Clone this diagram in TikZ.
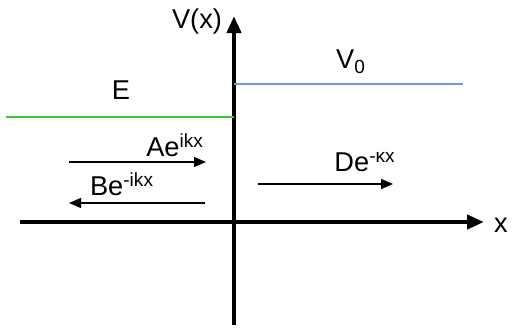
\documentclass[tikz,border=0pt]{standalone}
\usepackage{fontspec}
\setmainfont{Liberation Sans}
\usepackage{tikz}
\usetikzlibrary{arrows.meta}
\definecolor{levelGreen}{HTML}{3CC83C}
\definecolor{levelBlue}{HTML}{6E96EB}

\begin{document}
\begin{tikzpicture}[
  font=\fontsize{15.5}{18}\selectfont,
  axis/.style={-{Triangle[length=3.4mm, width=2.8mm]}, line width=2.4pt},
  wave/.style={-{Triangle[length=2.4mm, width=2mm]}, line width=0.75pt},
  lvl/.style={line width=1pt},
  lbl/.style={inner sep=0pt, anchor=center}
]
\useasboundingbox (0,0) rectangle (10.24,6.54);
% axes
\coordinate (ybot) at (4.68,0.04);
\coordinate (ytop) at (4.68,6.22);
\coordinate (xl)   at (0.40,2.10);
\coordinate (xr)   at (9.68,2.10);
\draw[axis] (xl) -- (xr);
\draw[axis] (ybot) -- (ytop);
\node[lbl] (vx) at (3.94,6.12) {V(x)};
\node[lbl] (xx) at (10.02,2.04) {x};

% energy and step potential
\coordinate (e0) at (0.12,4.20);
\coordinate (e1) at (4.68,4.20);
\coordinate (v0) at (4.68,4.86);
\coordinate (v1) at (9.26,4.86);
\draw[lvl, levelGreen] (e0) -- (e1);
\draw[lvl, levelBlue]  (v0) -- (v1);
\node[lbl] (en) at (2.42,4.74) {E};
\node[lbl] (vn) at (7.02,5.30) {V\textsubscript{0}};

% waves
\coordinate (a0) at (1.38,3.30);
\coordinate (a1) at (4.12,3.30);
\coordinate (b0) at (4.10,2.48);
\coordinate (b1) at (1.38,2.48);
\coordinate (d0) at (5.16,2.86);
\coordinate (d1) at (7.86,2.86);
\draw[wave] (a0) -- (a1);
\draw[wave] (b0) -- (b1);
\draw[wave] (d0) -- (d1);
\node[lbl] (an) at (3.50,3.64) {Ae\textsuperscript{ikx}};
\node[lbl] (bn) at (2.44,2.86) {Be\textsuperscript{-ikx}};
\node[lbl] (dn) at (7.30,3.30) {De\textsuperscript{-κx}};
\end{tikzpicture}
\end{document}
